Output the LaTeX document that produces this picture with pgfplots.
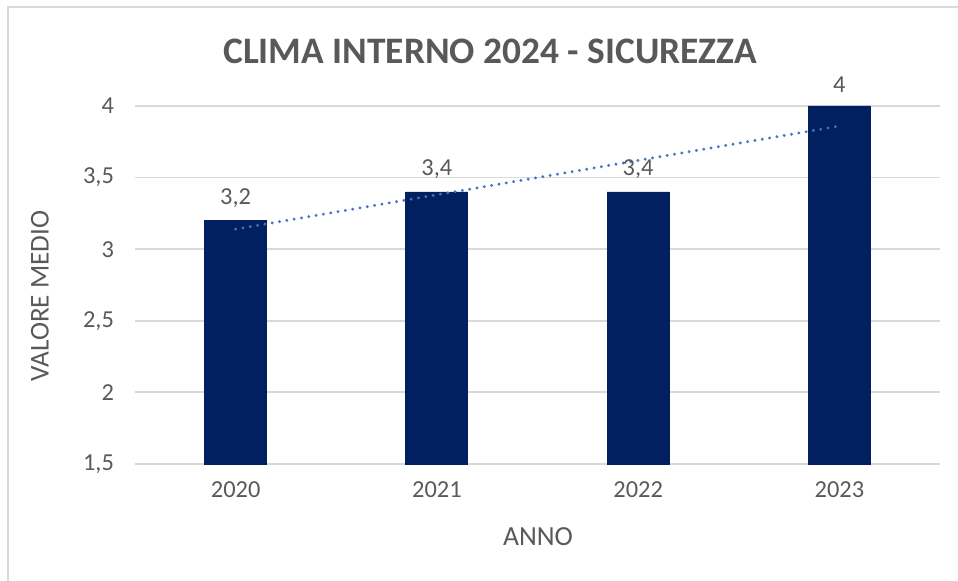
\documentclass[border=0pt]{standalone}
\usepackage{pgfplots}
\pgfplotsset{compat=1.18}
\usepackage{fontspec}
\setmainfont{Carlito}
\definecolor{barblue}{HTML}{002060}
\definecolor{trend}{HTML}{4472C4}
\definecolor{txt}{HTML}{595959}
\definecolor{gridc}{HTML}{D9D9D9}
\begin{document}
\begin{tikzpicture}
\path[use as bounding box] (0,0) rectangle (479pt,290.5pt);
\draw[gridc, line width=1pt] (4pt,0) -- (4pt,287pt) -- (479pt,287pt);
\begin{axis}[
  at={(67.5pt,58.5pt)}, anchor=south west,
  scale only axis, width=402.5pt, height=179pt,
  xmin=-0.5, xmax=3.5, ymin=1.5, ymax=4,
  xtick={0,1,2,3}, xticklabels={2020,2021,2022,2023},
  ytick={1.5,2,2.5,3,3.5,4},
  ymajorgrids, grid style={gridc, line width=0.9pt},
  axis line style={draw=none},
  major tick length=0pt,
  /pgf/number format/use comma,
  /pgf/number format/assume math mode=true,
  tick label style={font=\fontsize{12.2}{14}\selectfont, text=txt},
  yticklabel style={xshift=-7pt},
  xticklabel style={yshift=-5.5pt},
  clip=false,
]
\addplot[ybar, bar width=31pt, fill=barblue, draw=barblue,
  nodes near coords, nodes near coords style={font=\fontsize{12.2}{14}\selectfont, text=txt, yshift=3pt},
  point meta=y]
  coordinates {(0,3.2) (1,3.4) (2,3.4) (3,4)};
\addplot[trend, line width=1.6pt, line cap=round, dash pattern=on 0.01pt off 3.7pt]
  coordinates {(0,3.14) (3,3.86)};
\end{axis}
\node[text=txt, font=\fontsize{18.7}{22}\selectfont\bfseries] at (245pt,265pt) {CLIMA INTERNO 2024 - SICUREZZA};
\node[text=txt, font=\fontsize{13.6}{16}\selectfont, rotate=90] at (20pt,142.5pt) {VALORE MEDIO};
\node[text=txt, font=\fontsize{13.8}{16}\selectfont] at (269pt,22pt) {ANNO};
\end{tikzpicture}
\end{document}
